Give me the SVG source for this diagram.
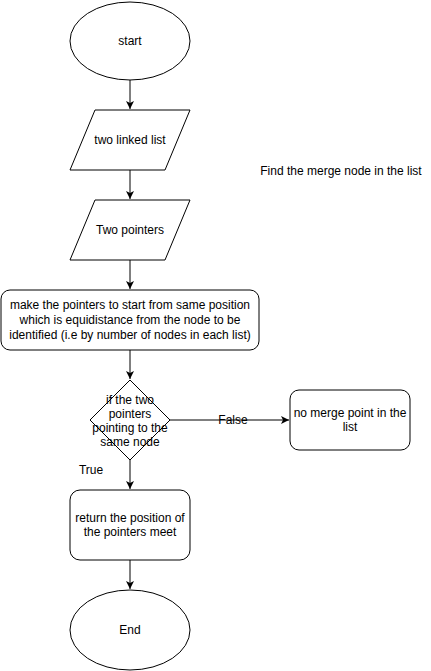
<svg xmlns="http://www.w3.org/2000/svg" width="431" height="671" viewBox="0 0 431 671">
<style>
.s{fill:#fff;stroke:#000;stroke-width:1}
.t{font-family:"Liberation Sans",Arial,sans-serif;font-size:12px;fill:#000;text-anchor:middle}
.c{fill:none;stroke:#000;stroke-width:1}
</style>
<defs>
<marker id="ah" viewBox="0 0 10 10" refX="10" refY="5" markerWidth="8" markerHeight="8" markerUnits="userSpaceOnUse" orient="auto">
<path d="M0,0 L10,5 L0,10 L2.5,5 Z" fill="#000"/>
</marker>
</defs>
<rect width="431" height="671" fill="#fff"/>
<g id="connectors">
<path class="c" d="M130,80 V109" marker-end="url(#ah)"/>
<path class="c" d="M130,170 V199" marker-end="url(#ah)"/>
<path class="c" d="M130,260 V289" marker-end="url(#ah)"/>
<path class="c" d="M130,350 V379" marker-end="url(#ah)"/>
<path class="c" d="M170,420 H289" marker-end="url(#ah)"/>
<text class="t" x="233" y="424">False</text>
<path class="c" d="M130,460 V489" marker-end="url(#ah)"/>
<text class="t" x="91" y="474">True</text>
<path class="c" d="M130,560 V589" marker-end="url(#ah)"/>
</g>
<g id="start">
<ellipse class="s" cx="130" cy="41" rx="60" ry="39"/>
<text class="t" x="130" y="45">start</text>
</g>
<g id="input1">
<polygon class="s" points="95,110 190,110 165,170 70,170"/>
<text class="t" x="130" y="144">two linked list</text>
</g>
<g id="input2">
<polygon class="s" points="95,200 190,200 165,260 70,260"/>
<text class="t" x="130" y="234">Two pointers</text>
</g>
<g id="process1">
<rect class="s" x="1" y="290" width="258" height="60" rx="9" ry="9"/>
<text class="t" x="130" y="309">make the pointers to start from same position</text>
<text class="t" x="130" y="324">which is equidistance from the node to be</text>
<text class="t" x="130" y="339">identified (i.e by number of nodes in each list)</text>
</g>
<g id="decision">
<polygon class="s" points="130,380 170,420 130,460 90,420"/>
<text class="t" x="130" y="404">if the two</text>
<text class="t" x="130" y="418">pointers</text>
<text class="t" x="130" y="432">pointing to the</text>
<text class="t" x="130" y="446">same node</text>
</g>
<g id="nomerge">
<rect class="s" x="290" y="390" width="120" height="60" rx="9" ry="9"/>
<text class="t" x="350" y="417">no merge point in the</text>
<text class="t" x="350" y="431">list</text>
</g>
<g id="return">
<rect class="s" x="70" y="490" width="120" height="70" rx="10" ry="10"/>
<text class="t" x="130" y="522">return the position of</text>
<text class="t" x="130" y="536">the pointers meet</text>
</g>
<g id="end">
<ellipse class="s" cx="130" cy="630" rx="60" ry="40"/>
<text class="t" x="130" y="634">End</text>
</g>
<g id="title">
<text class="t" x="341" y="175">Find the merge node in the list</text>
</g>
</svg>
